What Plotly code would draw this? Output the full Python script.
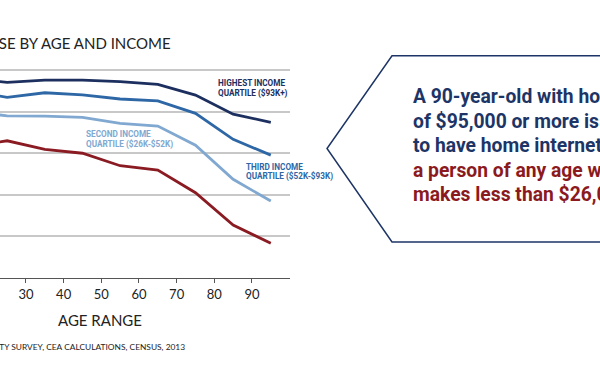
import plotly.graph_objects as go

ages = [15, 25, 35, 45, 55, 65, 75, 85, 95]
highest = [95.7, 94.1, 95.2, 95.2, 94.4, 93.1, 88.0, 78.8, 74.9]
third = [90.0, 86.9, 89.1, 88.1, 86.1, 85.2, 79.2, 66.7, 59.1]
second = [80.0, 78.0, 77.9, 77.3, 74.4, 73.1, 63.9, 47.5, 37.0]
lowest = [63.4, 66.0, 61.9, 60.0, 54.0, 51.9, 41.0, 25.5, 16.7]

x_ticks = [20, 30, 40, 50, 60, 70, 80, 90]
y_grid = [20, 40, 60, 80, 100]

title_text = "HOME INTERNET USE BY AGE AND INCOME"
source_text = "SOURCE: AMERICAN COMMUNITY SURVEY, CEA CALCULATIONS, CENSUS, 2013"
x_title = "AGE RANGE"
series_labels = [
    (["HIGHEST INCOME", "QUARTILE ($93K+)"], "#1c2f5f", 216, 83, 10),
    (["SECOND INCOME", "QUARTILE ($26K-$52K)"], "#80a8d0", 84, 134, 10),
    (["THIRD INCOME", "QUARTILE ($52K-$93K)"], "#2e67a6", 244, 167, 9),
]
callout_lines = [
    ("A 90-year-old with household income", "#1d3566"),
    ("of $95,000 or more is more likely", "#1d3566"),
    ("to have home internet than", "#1d3566"),
    ("a person of any age who", "#8b1a1e"),
    ("makes less than $26,000.", "#8b1a1e"),
]

NAVY = "#1c2f5f"
MID = "#2e67a6"
LIGHT = "#80a8d0"
RED = "#8a1b22"

W, H = 600, 366
Y_MAX = 101
PL, PR, PB = 0, 290, 278
PT = 278 - 208 * Y_MAX / 100


def xp(px):
    return (px - PL) / (PR - PL)


def yp(py):
    return (PB - py) / (PB - PT)


fig = go.Figure()
for vals, col in [(lowest, RED), (second, LIGHT), (third, MID), (highest, NAVY)]:
    fig.add_trace(go.Scatter(x=ages, y=vals, mode="lines",
                             line=dict(color=col, width=2.8),
                             hoverinfo="skip", showlegend=False))

annotations = []
annotations.append(dict(x=xp(173), y=yp(43), xref="paper", yref="paper",
                        text=title_text, showarrow=False, xanchor="right", yanchor="middle",
                        font=dict(family="Lato", size=15, color="#222222")))
annotations.append(dict(x=xp(100), y=yp(320), xref="paper", yref="paper",
                        text=x_title, showarrow=False, xanchor="center", yanchor="middle",
                        font=dict(family="Lato", size=15, color="#222222")))
annotations.append(dict(x=xp(187), y=yp(347), xref="paper", yref="paper",
                        text=source_text, showarrow=False, xanchor="right", yanchor="middle",
                        font=dict(family="Lato", size=8.4, color="#222222")))
for lines, col, px, py, gap in series_labels:
    for j, ln in enumerate(lines):
        annotations.append(dict(x=xp(px), y=yp(py + gap * j), xref="paper", yref="paper",
                                text="<b>" + ln + "</b>", showarrow=False,
                                xanchor="left", yanchor="middle", align="left",
                                font=dict(family="Roboto", size=8.2, color=col)))
for i, (txt, col) in enumerate(callout_lines):
    annotations.append(dict(x=xp(411), y=yp(96.5 + 24.5 * i), xref="paper", yref="paper",
                            text="<b>" + txt + "</b>", showarrow=False,
                            xanchor="left", yanchor="middle", align="left",
                            font=dict(family="Roboto", size=19.3, color=col)))

pts = [(612, 55.7), (392, 55.7), (327, 148.5), (392, 242), (612, 242)]
path = "M " + " L ".join(f"{xp(a):.5f},{yp(b):.5f}" for a, b in pts)
shapes = [dict(type="path", xref="paper", yref="paper", path=path,
               line=dict(color="#1d3566", width=1.5), fillcolor="white", layer="below")]

fig.update_layout(
    width=W, height=H,
    margin=dict(l=PL, r=W - PR, t=PT, b=H - PB, pad=0),
    paper_bgcolor="white", plot_bgcolor="white",
    annotations=annotations, shapes=shapes,
    xaxis=dict(range=[23.1, 100.1], tickvals=x_ticks, ticktext=[str(v) for v in x_ticks],
               showgrid=False, zeroline=False, showline=True, linecolor="#555555", linewidth=1.3,
               ticks="outside", ticklen=4, tickwidth=1.2, tickcolor="#555555",
               tickfont=dict(family="Lato", size=13, color="#222222"), fixedrange=True),
    yaxis=dict(range=[0, Y_MAX], tickvals=y_grid, showticklabels=False, showgrid=True,
               gridcolor="#c8c8c8", gridwidth=1.5, zeroline=False, showline=False, fixedrange=True),
)

fig.write_html("out.html", config={"displayModeBar": False},
               post_script="document.body.style.margin='0';document.body.style.padding='0';")
